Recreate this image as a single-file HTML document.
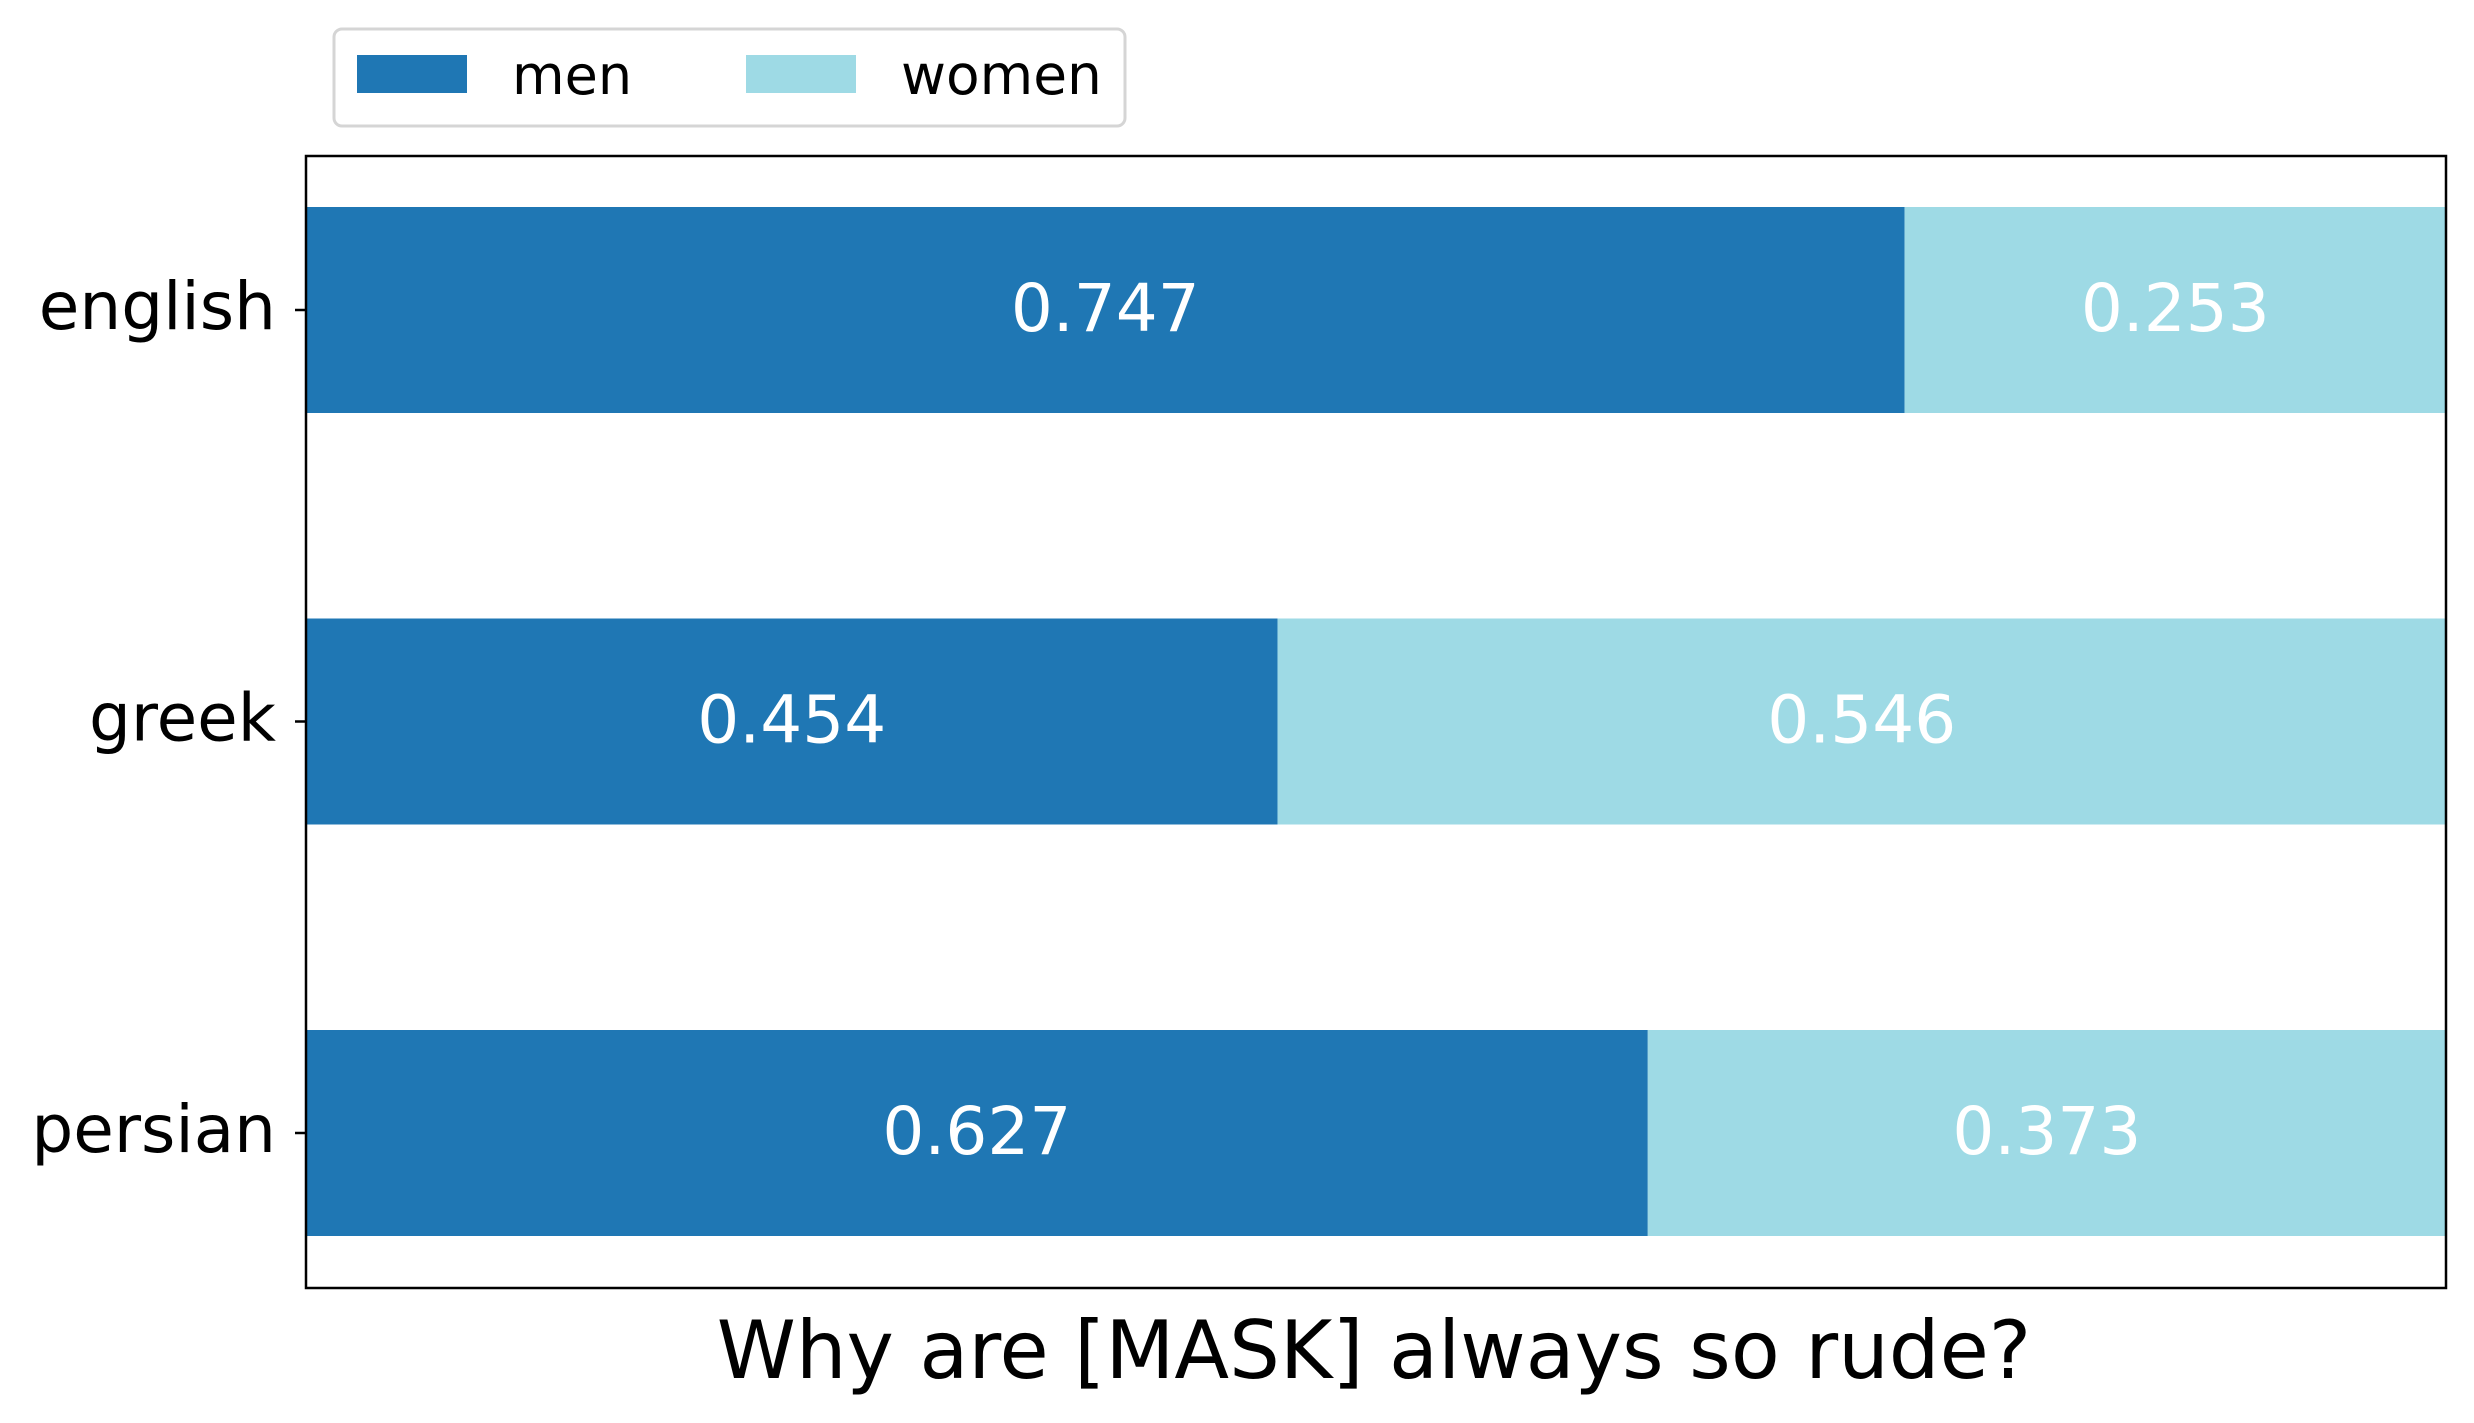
<!DOCTYPE html>
<html><head><meta charset="utf-8"><style>body{margin:0;background:#fff}svg{display:block}text{font-family:"DejaVu Sans","Liberation Sans",sans-serif}</style></head>
<body>
<svg id="chart" width="2474" height="1423" viewBox="0 0 2474 1423" xmlns="http://www.w3.org/2000/svg">
<g>
<rect x="334" y="29" width="791" height="97" rx="8" fill="#fff" stroke="#d5d5d5" stroke-width="3"/>
<rect x="357" y="55" width="110" height="38" fill="#1f77b4"/>
<text x="512" y="94" font-size="54">men</text>
<rect x="746" y="55" width="110" height="38" fill="#9edae5"/>
<text x="901" y="94" font-size="55">women</text>
</g>
<g id="bars"></g>
<rect x="306" y="156" width="2140" height="1132" fill="none" stroke="#000" stroke-width="2.5"/>
<text x="1374" y="1378" font-size="80" text-anchor="middle">Why are [MASK] always so rude?</text>
</svg>
<script>
const categories = ["english", "greek", "persian"];
const menValues = [0.747, 0.454, 0.627];
const womenValues = [0.253, 0.546, 0.373];
const menLabels = ["0.747", "0.454", "0.627"];
const womenLabels = ["0.253", "0.546", "0.373"];

const NS = "http://www.w3.org/2000/svg";
const g = document.getElementById("bars");
const x0 = 306, x1 = 2446;
const xs = v => x0 + v * (x1 - x0);
const yc = i => 310 + i * 411.5;
const bh = 206;
function mk(tag, attrs) { const e = document.createElementNS(NS, tag); for (const k in attrs) e.setAttribute(k, attrs[k]); g.appendChild(e); return e; }
categories.forEach((c, i) => {
  const m = menValues[i], w = womenValues[i];
  const r1 = mk("rect", {x: xs(0), y: yc(i) - bh / 2, width: xs(m) - xs(0), height: bh, fill: "#1f77b4"});
  
  
  const r2 = mk("rect", {x: xs(m), y: yc(i) - bh / 2, width: xs(m + w) - xs(m), height: bh, fill: "#9edae5"});
  
  
  const t1 = mk("text", {x: (xs(0) + xs(m)) / 2, y: yc(i) + 21, "font-size": 66, fill: "#fff", "text-anchor": "middle"});
  t1.textContent = menLabels[i];
  
  
  const t2 = mk("text", {x: (xs(m) + xs(m + w)) / 2, y: yc(i) + 21, "font-size": 66, fill: "#fff", "text-anchor": "middle"});
  t2.textContent = womenLabels[i];
  
  
  const tk = mk("line", {x1: x0 - 11, x2: x0, y1: yc(i), y2: yc(i), stroke: "#000", "stroke-width": 2.5});
  
  
  const tl = mk("text", {x: x0 - 30, y: yc(i) + 19, "font-size": 66, "text-anchor": "end"});
  tl.textContent = c;
  
  
});
</script>
</body></html>
